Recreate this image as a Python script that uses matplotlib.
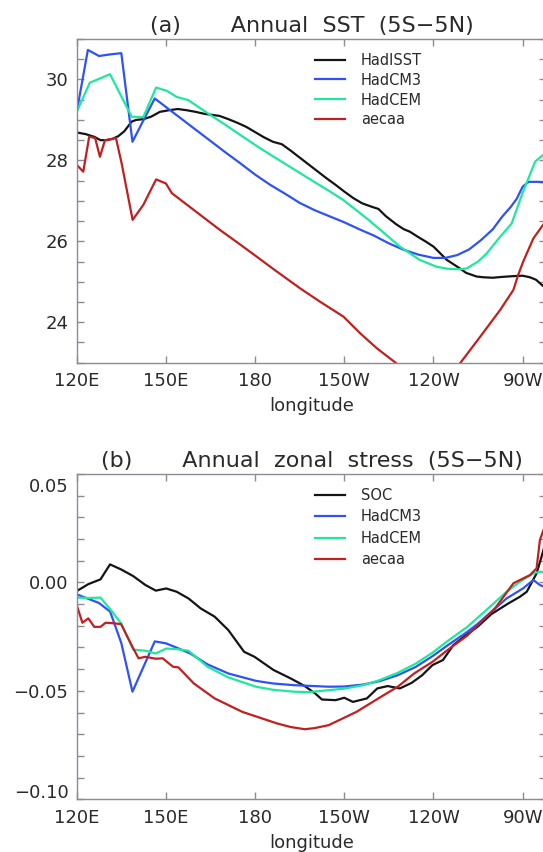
import numpy as np
import matplotlib
matplotlib.use("Agg")
from matplotlib import pyplot as plt
from matplotlib.ticker import FixedLocator, MultipleLocator
import matplotlib.transforms as mtransforms

# ---- (a) annual SST, 5S-5N ----
sst_obs_lon = [120, 123, 126, 128, 130, 132, 134, 136, 138.5, 140, 142.5, 145, 148, 151, 154,
               157, 160, 163, 166, 168, 171, 174, 177, 180, 183, 186, 189, 192, 195, 198, 201,
               204, 207, 210, 213, 216, 219, 221.5, 224, 227.5, 230, 232, 235, 237.5, 240, 241.1,
               244.5, 248.9, 251, 254.5, 257, 260, 263, 267, 270, 272.5, 274.5, 276.8, 278]
sst_obs = [28.69, 28.65, 28.58, 28.5, 28.5, 28.53, 28.6, 28.72, 28.96, 29.0, 29.02, 29.08,
           29.2, 29.24, 29.27, 29.24, 29.2, 29.15, 29.12, 29.1, 29.02, 28.93, 28.83, 28.7,
           28.57, 28.46, 28.4, 28.24, 28.07, 27.9, 27.73, 27.56, 27.4, 27.23, 27.07, 26.94,
           26.86, 26.8, 26.62, 26.42, 26.3, 26.24, 26.1, 25.99, 25.87, 25.79, 25.54, 25.33,
           25.22, 25.13, 25.11, 25.1, 25.12, 25.14, 25.15, 25.11, 25.05, 24.9, 24.85]

sst_cm3_lon = [120, 123.75, 127.5, 131.25, 135, 138.75, 142.5, 146.25, 150, 155, 160, 165, 170,
               175, 180, 185, 190, 195, 200, 205, 210, 215, 220, 225, 230, 235, 240, 244, 248,
               252, 256, 260, 263, 266, 268, 270, 272, 275, 278]
sst_cm3 = [29.2, 30.73, 30.58, 30.62, 30.65, 28.46, 29.0, 29.53, 29.32, 29.04, 28.76, 28.48,
           28.2, 27.93, 27.65, 27.4, 27.18, 26.95, 26.77, 26.62, 26.47, 26.3, 26.14, 25.95,
           25.79, 25.67, 25.59, 25.59, 25.66, 25.8, 26.03, 26.3, 26.6, 26.85, 27.05, 27.35,
           27.47, 27.47, 27.45]

sst_cem_lon = [120, 124.4, 131.2, 138.5, 142.4, 146.7, 150.3, 153.6, 157.5, 165, 170, 175,
               181.7, 190, 199, 205, 209.7, 217.5, 223, 228.7, 235.4, 241.1, 245, 248.9, 251.2,
               255, 257.9, 262.4, 266.3, 270, 274.2, 276.8, 278]
sst_cem = [29.2, 29.92, 30.13, 29.08, 29.07, 29.8, 29.72, 29.57, 29.49, 29.12, 28.88, 28.63,
           28.3, 27.92, 27.51, 27.24, 27.02, 26.57, 26.23, 25.87, 25.54, 25.37, 25.32, 25.31,
           25.33, 25.5, 25.7, 26.11, 26.44, 27.2, 27.97, 28.13, 28.17]

sst_aecaa_lon = [120, 122.2, 124.2, 126.2, 127.8, 129.5, 133.2, 135.1, 138.8, 142.4, 146.7,
                 150.0, 152, 160, 168.2, 175, 180, 187, 195.1, 202, 209.7, 215.3, 220.9, 227.6,
                 232, 236, 240, 244, 248.9, 255.7, 262.4, 266.9, 268.5, 270.2, 273.6, 276.8, 278]
sst_aecaa = [27.89, 27.72, 28.59, 28.55, 28.09, 28.5, 28.55, 27.93, 26.53, 26.9, 27.53, 27.43,
             27.19, 26.74, 26.28, 25.92, 25.65, 25.27, 24.84, 24.5, 24.14, 23.73, 23.36, 22.98,
             22.7, 22.55, 22.5, 22.6, 22.98, 23.64, 24.3, 24.8, 25.17, 25.5, 26.07, 26.4, 26.52]

# ---- (b) annual zonal wind stress, 5S-5N ----
tau_soc_lon = [120, 123.9, 128, 131.2, 134.9, 139, 143.1, 146.6, 150.1, 153.6, 157.6, 161.7,
               166.4, 171, 176.3, 179.8, 186.2, 192, 196.7, 200.2, 202.5, 207.1, 210, 212.9,
               217.6, 221.1, 224.6, 228.7, 232.7, 236.2, 239.7, 243.2, 246.7, 250.2, 254.8,
               259.5, 265.2, 269.1, 271.4, 274.7, 276.4, 278]
tau_soc = [-0.004, -0.0008, 0.0014, 0.0083, 0.006, 0.0029, -0.0012, -0.0038, -0.0028, -0.0043,
           -0.0074, -0.012, -0.0158, -0.022, -0.032, -0.0343, -0.0404, -0.0443, -0.0478,
           -0.0512, -0.054, -0.0543, -0.0532, -0.0551, -0.0535, -0.0489, -0.0478, -0.0489,
           -0.0463, -0.0428, -0.0381, -0.0358, -0.0289, -0.0251, -0.0205, -0.0146, -0.0097,
           -0.0066, -0.0043, 0.0042, 0.012, 0.02]

tau_cm3_lon = [120, 123.75, 127.5, 131.25, 135, 138.75, 142.5, 146.25, 150, 154, 158.2, 164,
               171, 180.3, 186, 193.1, 204.8, 210, 216.4, 222, 228, 234, 239.7, 245, 251.4,
               255, 259.5, 264.6, 270.2, 273.6, 275.8, 278]
tau_cm3 = [-0.0055, -0.0075, -0.0095, -0.0135, -0.028, -0.0504, -0.0388, -0.0272, -0.0281,
           -0.0303, -0.0328, -0.0378, -0.042, -0.0454, -0.0466, -0.0474, -0.0481, -0.048,
           -0.0471, -0.0455, -0.0428, -0.039, -0.034, -0.0288, -0.0228, -0.019, -0.0135,
           -0.0074, -0.0027, 0.0011, -0.0012, -0.0025]

tau_cem_lon = [120, 124, 128, 131.5, 135, 139, 143.1, 146.6, 150.1, 154, 157.6, 164, 171,
               180.3, 186, 193.1, 198, 204.8, 210, 216.4, 222, 228, 234, 239.7, 245, 251.4,
               258.4, 264.6, 269.1, 273.6, 275.8, 278]
tau_cem = [-0.007, -0.0072, -0.007, -0.0128, -0.019, -0.031, -0.0315, -0.0328, -0.0305,
           -0.0308, -0.0315, -0.0389, -0.0438, -0.0481, -0.0495, -0.0504, -0.0506, -0.0497,
           -0.049, -0.0474, -0.045, -0.0417, -0.0375, -0.0324, -0.0268, -0.0205, -0.012,
           -0.0043, 0.0003, 0.0042, 0.0049, 0.0049]

tau_aecaa_lon = [120, 121.9, 123.9, 125.9, 128, 129.7, 132, 134.9, 139, 140.8, 143.1, 146.6,
                 148.9, 152.4, 154.2, 159.4, 166.4, 175.7, 187.3, 192, 196.7, 200, 204.8,
                 214.1, 222.3, 228, 233.5, 239.7, 245.5, 251.4, 260.7, 266.9, 272.5, 274.7,
                 275.8, 278]
tau_aecaa = [-0.0105, -0.0186, -0.0166, -0.0205, -0.0205, -0.0186, -0.0188, -0.0192, -0.0304,
             -0.035, -0.0343, -0.0352, -0.035, -0.0389, -0.0392, -0.0466, -0.0535, -0.0597,
             -0.065, -0.0667, -0.0677, -0.0672, -0.0658, -0.0597, -0.0528, -0.0481, -0.042,
             -0.0366, -0.0304, -0.0245, -0.012, -0.0004, 0.0034, 0.0065, 0.0195, 0.028]

lon_ticks = [120, 150, 180, 210, 240, 270]
lon_labels = ["120E", "150E", "180", "150W", "120W", "90W"]

COL_OBS = "#141414"
COL_CM3 = "#2e52f6"
COL_CEM = "#1ee89c"
COL_AEC = "#c02020"
TXT = "#2a2a2a"
SPINE = "#8c8c98"

plt.rcParams["font.family"] = "DejaVu Sans"

fig = plt.figure(figsize=(5.43, 8.52), dpi=100)
ax_a = fig.add_axes([0.1413, 0.5743, 0.865, 0.3799])
ax_b = fig.add_axes([0.1413, 0.0619, 0.865, 0.3818])


def style_axis(ax, yticks, ylabels, yminor):
    ax.set_xlim(120, 278)
    ax.xaxis.set_major_locator(FixedLocator(lon_ticks))
    ax.set_xticklabels(lon_labels)
    ax.yaxis.set_major_locator(FixedLocator(yticks))
    ax.set_yticklabels(ylabels)
    ax.yaxis.set_minor_locator(MultipleLocator(yminor))
    ax.tick_params(which="both", direction="in", top=True, right=True,
                   color=SPINE, width=1, labelcolor=TXT, labelsize=13)
    ax.tick_params(which="major", length=5)
    ax.tick_params(which="minor", length=5)
    ax.tick_params(axis="x", pad=7)
    ax.tick_params(axis="y", pad=6)
    for sp in ax.spines.values():
        sp.set_color(SPINE)
        sp.set_linewidth(1)
    ax.set_xlabel("longitude", fontsize=13, color=TXT, labelpad=5)


lw = 1.6

# panel (a)
ax_a.plot(sst_obs_lon, sst_obs, color=COL_OBS, lw=lw, label="HadISST")
ax_a.plot(sst_cm3_lon, sst_cm3, color=COL_CM3, lw=lw, label="HadCM3")
ax_a.plot(sst_cem_lon, sst_cem, color=COL_CEM, lw=lw, label="HadCEM")
ax_a.plot(sst_aecaa_lon, sst_aecaa, color=COL_AEC, lw=lw, label="aecaa")
ax_a.set_ylim(23, 31)
style_axis(ax_a, [24, 26, 28, 30], ["24", "26", "28", "30"], 0.5)
ax_a.set_title("(a)       Annual  SST  (5S\u22125N)", fontsize=16, color=TXT, pad=5)
ax_a.legend(loc="upper left", bbox_to_anchor=(0.507, 0.958), frameon=False,
            fontsize=10.5, handlelength=2.1, handletextpad=1.05, labelspacing=0.34,
            borderpad=0, borderaxespad=0, labelcolor=TXT)

# panel (b)
ax_b.plot(tau_soc_lon, tau_soc, color=COL_OBS, lw=lw, label="SOC")
ax_b.plot(tau_cm3_lon, tau_cm3, color=COL_CM3, lw=lw, label="HadCM3")
ax_b.plot(tau_cem_lon, tau_cem, color=COL_CEM, lw=lw, label="HadCEM")
ax_b.plot(tau_aecaa_lon, tau_aecaa, color=COL_AEC, lw=lw, label="aecaa")
ax_b.set_ylim(-0.10, 0.05)
style_axis(ax_b, [-0.10, -0.05, 0.0, 0.05],
           ["\u22120.10", "\u22120.05", "0.00", "0.05"], 0.01)
ax_b.set_title("(b)       Annual  zonal  stress  (5S\u22125N)", fontsize=16, color=TXT, pad=5)
ax_b.legend(loc="upper left", bbox_to_anchor=(0.507, 0.957), frameon=False,
            fontsize=10.5, handlelength=2.1, handletextpad=1.05, labelspacing=0.44,
            borderpad=0, borderaxespad=0, labelcolor=TXT)

# end labels sit just inside the frame
yl = ax_b.get_yticklabels()
yl[0].set_transform(yl[0].get_transform() + mtransforms.ScaledTranslation(0, 6 / 72, fig.dpi_scale_trans))
yl[-1].set_transform(yl[-1].get_transform() + mtransforms.ScaledTranslation(0, -8 / 72, fig.dpi_scale_trans))

fig.savefig("out.png", dpi=100, facecolor="white")
